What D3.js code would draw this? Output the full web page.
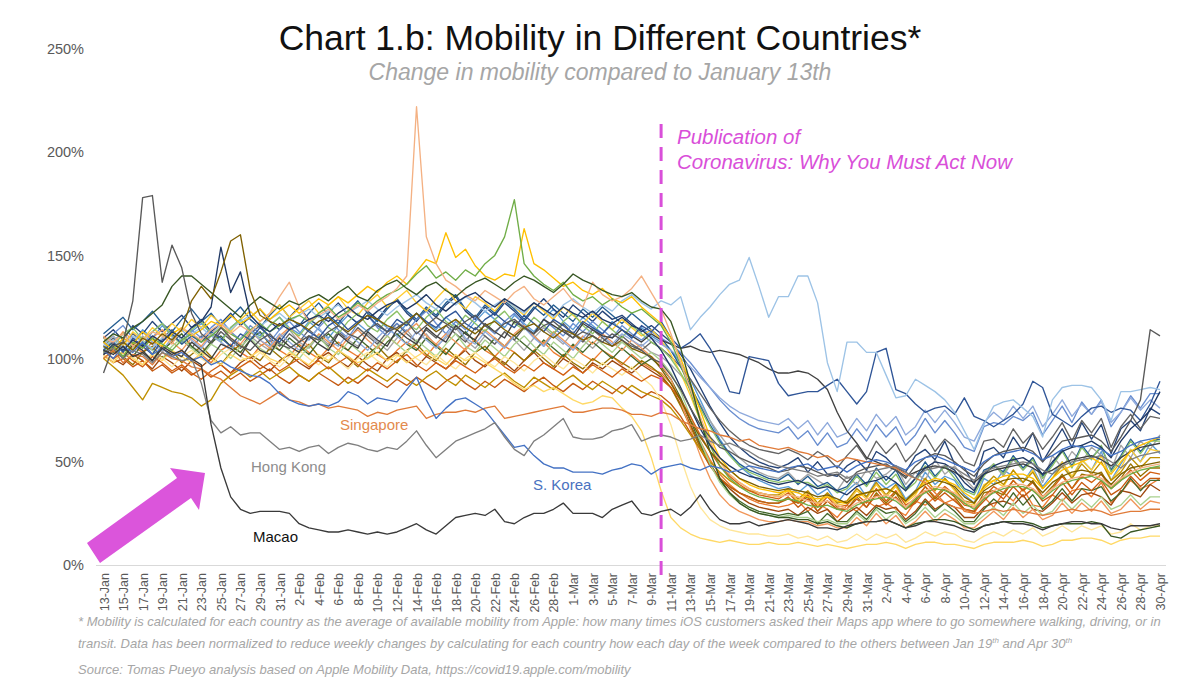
<!DOCTYPE html>
<html><head><meta charset="utf-8">
<script src="https://cdn.jsdelivr.net/npm/d3@7/dist/d3.min.js"></script>
<style>body{margin:0;background:#fff}svg{display:block}text{font-family:"Liberation Sans",Arial,sans-serif}</style>
</head><body><svg id="chart" width="1200" height="696"></svg>
<script>
// ---------- DATA ----------
const startDateUTC = [2020, 0, 13];   // 13-Jan-2020, daily through 30-Apr-2020
const nDays = 109;
const yTickValues = [0, 50, 100, 150, 200, 250];
const xTickEvery = 2;
const eventIndex = 57; // 10-Mar: publication date

const macao = [104,102,106,101,103,99,105,102,104,100, 97,68,47,33,27,25,26,26,26,25, 20,18,17,16,16,17,16,15,16,15, 16,18,20,17,15,19,23,24,25,24, 27,21,20,23,25,25,27,30,25,25, 25,23,27,29,31,25,24,26,27,24, 28,34,27,22,20,20,21,19,20,21, 22,21,20,18,18,17,19,20,21,21, 22,20,18,19,21,21,20,19,17,16, 19,20,21,20,20,19,17,19,20,21, 21,20,20,18,17,19,19,19,20];
const hongKong = [103,105,100,104,102,98,103,101,99,100, 88,70,64,67,63,64,64,60,56,57, 55,57,58,54,57,59,58,56,55,57, 56,60,65,58,52,56,60,62,64,66, 69,62,56,53,60,63,67,71,62,61, 61,62,65,66,68,60,62,63,62,60, 61,63,60,58,59,57,55,52,50,48, 47,46,45,43,44,45,42,44,45,46, 47,48,45,42,46,47,48,47,44,41, 45,47,48,49,50,49,46,44,48,50, 51,52,53,50,47,51,53,54,55];
const sKorea = [104,100,106,103,108,102,105,101,103,99, 101,97,99,96,94,92,91,88,83,80, 78,77,78,77,79,84,82,78,81,80, 79,85,91,80,71,76,80,81,78,75, 69,63,57,58,53,49,47,47,45,45, 45,44,46,47,49,48,44,47,48,49, 47,46,48,47,45,46,48,47,46,45, 47,48,49,46,47,48,45,48,50,51, 50,48,46,50,52,53,51,49,47,45, 50,53,54,55,56,54,51,53,56,58, 57,58,56,53,55,58,60,61,62];
const singapore = [100,104,98,102,101,97,103,100,99,96, 95,92,90,86,82,80,78,81,84,80, 79,77,78,76,77,76,75,72,74,73, 75,76,77,71,73,74,74,75,74,76, 77,71,72,73,74,75,76,77,74,74, 75,76,76,75,73,73,72,74,73,70, 68,66,65,63,62,60,61,58,57,56, 57,55,54,52,53,50,52,51,50,49, 48,47,44,42,40,35,30,28,27,25, 26,27,26,27,26,25,24,25,26,27, 26,27,26,24,25,26,26,27,27];
const countryA = [93,106,108,128,178,179,137,155,144,122, 112,108,115,110,106,104,109,112,107,105, 108,111,109,113,116,112,110,114,117,113, 115,118,112,116,120,117,114,118,121,116, 113,117,119,115,112,116,118,114,110,113, 111,108,112,109,106,104,100,98,92,85, 76,68,62,57,55,52,50,48,47,45, 46,48,47,45,43,44,40,45,47,48, 49,46,42,48,52,54,53,50,46,43, 49,53,55,56,57,55,50,55,60,61, 62,63,60,55,62,70,80,114,111];
const countryB = [106,103,108,104,110,107,112,109,114,128, 135,129,142,157,160,133,121,118,116,119, 117,114,118,120,116,113,117,121,119,116, 114,118,122,117,113,116,119,115,112,116, 118,114,111,115,117,113,110,114,112,109, 111,108,106,109,105,103,101,95,88,80, 70,62,55,50,46,42,40,38,37,36, 37,36,35,33,34,32,30,34,35,36, 37,35,31,36,39,41,40,38,33,30, 36,39,41,42,42,40,35,40,43,45, 46,45,44,39,44,47,48,49,50];
const countryC = [102,107,104,109,106,111,108,113,110,115, 118,125,154,132,142,121,116,113,117,114, 116,119,121,118,122,125,121,119,123,126, 128,124,127,131,126,123,127,130,132,128, 125,129,126,123,127,124,121,125,122,120, 123,119,117,120,116,114,110,104,96,86, 76,66,58,52,48,45,43,42,40,39, 40,41,39,37,38,36,34,38,40,41, 43,40,36,42,47,50,49,46,40,36, 44,48,50,51,52,49,44,50,55,57, 58,60,57,52,60,66,70,75,84];
const countryD = [108,112,110,115,118,122,126,135,140,140, 136,132,128,124,120,126,130,127,124,128, 126,129,131,128,132,135,130,128,133,136, 138,134,131,135,137,133,130,134,137,139, 136,133,137,140,138,135,132,136,141,138, 136,133,131,130,132,128,125,124,118,105, 88,70,55,42,35,30,27,25,24,23, 23,22,22,20,21,19,18,20,21,21, 22,20,18,20,21,22,22,21,19,17, 19,20,21,21,21,20,18,19,20,20, 20,21,20,14,13,16,17,18,19];
const countryE = [110,108,112,106,109,113,111,107,115,112, 109,114,117,112,116,113,118,122,130,137, 125,118,121,124,119,122,126,123,127,130, 134,140,222,159,146,138,135,131,128,133, 130,127,132,135,129,126,130,134,128,125, 137,131,128,130,134,140,132,124,112,98, 85,72,60,50,44,40,37,35,34,33, 34,33,31,30,31,29,27,30,32,33, 34,32,28,33,36,38,37,35,31,28, 33,36,38,39,39,37,33,37,40,42, 43,44,42,38,42,45,47,48,49];
const countryF = [103,106,101,108,105,110,107,104,109,112, 108,111,115,112,109,114,117,113,116,119, 121,118,122,125,120,123,127,124,128,131, 133,136,141,145,139,142,138,143,140,146, 150,159,177,146,140,136,133,137,131,128, 130,126,129,125,122,124,120,116,108,97, 84,70,58,48,42,38,35,33,32,31, 32,31,29,28,29,27,26,29,31,32, 33,31,27,32,35,37,36,34,30,27, 32,35,37,38,38,36,32,36,39,41, 42,43,41,37,41,44,46,47,48];
const countryG = [108,104,110,107,113,109,106,112,115,111, 114,118,116,121,117,120,124,119,123,126, 122,125,129,126,130,127,131,135,132,137, 140,136,142,148,146,161,149,153,145,140, 138,141,140,163,146,143,139,135,137,133, 131,134,129,127,130,125,121,117,110,100, 88,75,62,52,46,42,39,37,36,35, 36,35,33,32,33,31,30,33,35,36, 37,35,31,36,40,42,41,39,35,32, 37,41,43,44,44,42,37,42,46,48, 50,52,49,44,50,55,58,60,62];
const countryH = [106,109,104,111,108,105,110,113,109,112, 115,111,117,114,118,121,116,119,122,118, 121,124,120,123,126,122,125,128,124,121, 125,128,131,127,124,129,126,130,127,123, 126,129,125,122,127,124,120,126,129,125, 122,126,123,128,131,127,124,128,126,130, 114,120,125,131,136,138,149,135,120,130, 130,140,140,127,98,84,108,108,103,103, 92,81,82,90,87,84,80,74,65,56, 68,77,79,80,76,72,62,80,86,87, 87,86,80,70,84,84,85,86,85];
const countryI = [104,108,103,110,106,102,109,112,107,111, 108,113,110,106,112,109,115,111,108,114, 117,113,110,116,119,114,118,121,116,113, 119,116,122,118,115,120,123,117,114,119, 122,118,115,121,117,113,119,116,112,118, 115,112,117,114,110,116,113,118,110,105, 108,112,105,96,84,83,101,100,99,88, 82,83,84,84,87,90,84,78,84,103, 105,85,83,78,74,76,77,73,81,72, 70,67,70,73,78,89,86,73,70,67, 72,76,77,74,76,75,70,78,89];
const countryJ = [102,105,100,107,104,99,106,103,101,108, 104,100,107,105,101,109,104,102,110,106, 103,111,107,104,112,108,105,113,109,106, 114,110,107,115,111,108,116,112,109,117, 113,110,118,115,112,119,116,113,110,117, 114,111,110,114,111,108,112,109,107,105, 106,104,103,104,103,102,100,98,95,93, 93,94,93,90,85,74,65,59,52,50, 48,46,43,45,47,48,47,45,42,40, 44,46,47,48,49,47,44,46,49,51, 52,53,51,48,52,55,57,58,59];
const countryK = [101,98,103,100,97,102,99,104,101,98, 103,100,97,102,99,101,104,100,98,103, 100,97,102,99,104,101,98,100,103,99, 102,98,101,104,100,97,102,99,101,98, 95,92,88,85,87,84,86,83,80,78, 79,82,81,76,72,65,52,36,23,18, 15,13,12,11,12,11,10,10,11,10, 10,11,10,9,10,9,8,9,10,10, 11,10,8,10,11,11,10,10,9,8, 10,11,11,11,12,11,9,10,12,12, 13,13,12,10,12,13,13,14,14];
const countryL = [105,109,112,107,114,110,116,111,108,113, 117,112,109,115,119,114,111,116,120,115, 112,118,114,110,116,121,117,113,119,115, 111,117,122,118,114,120,116,112,118,123, 119,115,121,117,113,119,124,118,114,120, 116,112,118,114,110,115,111,108,104,98, 90,80,70,61,54,48,44,41,39,37, 38,35,39,34,37,30,36,40,33,41, 37,40,32,36,45,39,43,41,34,30, 42,39,46,43,40,47,38,44,50,42, 51,46,55,41,49,56,50,59,54];
const countryM = [110,106,109,104,111,107,103,109,112,106, 103,108,113,109,105,111,107,104,110,114, 108,105,111,107,113,109,106,112,108,104, 110,114,108,112,106,110,115,109,105,111, 107,113,109,104,110,115,111,107,113,109, 105,110,106,108,104,107,103,101,97,92, 86,78,70,63,57,52,48,45,43,42, 45,40,44,41,38,36,43,39,46,42, 44,48,39,45,41,51,44,48,42,37, 45,49,43,51,46,52,40,53,47,55, 50,57,53,46,58,52,60,56,63];
const countryN = [108,104,101,106,103,108,105,101,104,99, 102,98,104,107,103,100,106,109,104,101, 107,103,100,105,108,104,101,106,102,99, 104,108,105,101,107,103,100,105,109,104, 101,106,103,99,104,108,103,100,106,102, 99,104,101,97,102,98,95,93,88,80, 70,60,51,44,39,35,32,30,29,28, 29,31,26,30,27,23,29,26,31,28, 30,27,24,31,29,33,30,32,26,25, 33,28,35,31,37,29,28,34,31,36, 37,33,40,30,35,41,37,39,42];
const countryO = [110,114,109,116,112,118,113,117,121,115, 119,113,117,122,116,120,124,118,114,120, 125,119,116,122,127,121,117,123,119,125, 128,122,118,124,120,126,130,123,119,125, 121,127,123,118,124,129,124,120,126,122, 118,123,119,121,117,113,116,112,108,102, 95,86,77,69,62,57,53,50,48,47, 49,52,45,50,44,43,48,51,46,55, 52,47,45,53,56,51,60,49,47,39, 55,57,52,62,55,64,50,58,66,57, 69,61,68,54,66,70,65,76,73];
const countryP = [104,100,97,102,99,95,101,98,94,99, 96,100,97,93,98,101,97,94,99,102, 98,95,100,103,99,96,101,97,94,100, 103,99,96,101,98,95,100,104,99,96, 101,98,94,99,103,98,95,100,97,93, 98,95,99,96,93,97,94,91,86,78, 68,58,49,42,37,33,30,28,27,26, 27,24,28,25,27,21,25,28,24,29, 27,28,22,26,32,27,30,28,23,23, 28,30,31,29,34,27,26,30,35,30, 34,35,33,29,36,35,33,39,36];
const countryQ = [106,110,107,112,108,104,110,114,109,105, 111,107,113,109,105,112,116,110,106,112, 108,114,110,106,113,109,115,111,107,113, 117,112,108,114,110,116,112,108,115,111, 107,113,109,115,111,106,112,117,112,108, 114,110,106,111,107,104,108,105,101,96, 90,83,76,70,65,61,58,56,55,54, 56,54,51,55,52,47,53,58,51,60, 54,59,50,55,63,55,61,57,50,48, 60,61,57,66,59,64,56,62,69,60, 70,64,71,57,67,73,66,72,71];
const countryR = [100,104,101,97,103,106,100,104,98,102, 106,101,97,103,107,102,99,105,101,97, 103,107,101,98,104,100,96,102,106,101, 98,104,107,102,99,105,101,97,103,106, 101,97,103,99,104,100,96,102,98,95, 100,97,101,98,95,99,96,92,86,77, 67,57,48,42,38,35,33,31,30,30, 32,30,33,26,31,27,27,33,28,35, 30,35,27,31,38,32,37,33,27,26, 35,36,34,41,36,41,33,38,44,37, 44,43,45,37,42,49,43,47,47];
const countryS = [112,116,120,114,118,123,117,113,119,124, 118,122,116,120,125,119,115,121,126,120, 116,122,127,121,117,123,128,122,118,124, 129,123,119,125,121,127,131,124,120,126, 122,128,124,119,125,121,126,122,118,124, 120,125,121,117,122,118,114,110,104,96, 87,77,68,60,54,49,46,44,42,41, 44,39,43,38,40,36,38,44,39,47, 41,46,37,42,50,43,48,44,37,35, 46,48,45,53,47,52,43,49,56,48, 58,52,57,46,53,61,55,60,61];
const countryT = [104,108,105,101,107,110,104,108,112,106, 102,108,111,106,103,109,113,107,104,110, 106,102,108,112,107,104,110,106,102,108, 112,107,104,110,106,102,108,113,108,104, 110,106,111,107,103,109,105,101,107,103, 108,104,100,105,101,97,100,96,90,81, 70,59,49,41,35,31,28,26,25,24, 25,24,26,20,25,21,21,26,22,28, 25,26,21,25,31,26,30,26,21,21, 27,32,28,35,29,34,27,31,37,31, 37,36,38,31,35,42,36,41,41];
const countryU = [108,112,116,110,106,113,117,111,108,114, 110,115,119,113,109,116,112,108,114,118, 113,109,115,120,114,110,117,121,115,111, 117,113,119,123,117,112,118,114,120,116, 112,118,122,116,112,119,115,111,117,113, 118,114,110,116,112,109,113,110,107,103, 98,92,86,80,75,71,68,66,65,64, 67,61,65,58,64,57,59,66,60,68, 62,67,58,63,71,64,70,64,57,55, 67,69,68,72,70,74,63,70,77,69, 79,73,80,67,74,82,76,83,83];
const countryV = [111,107,113,109,105,110,114,108,104,110, 106,112,116,110,107,113,109,105,111,115, 110,106,112,108,104,110,114,109,105,111, 107,113,117,111,107,112,108,104,110,114, 110,106,112,116,111,107,113,109,105,111, 107,112,108,104,109,105,101,97,90,79, 66,53,42,34,29,26,24,22,21,21, 22,21,21,19,20,18,18,23,19,25, 20,24,18,21,26,21,25,22,18,18, 22,26,22,28,23,27,22,24,30,25, 30,26,31,25,27,32,27,31,30];
const countryW = [108,111,106,113,109,115,111,117,113,119, 115,121,117,113,119,123,118,122,126,120, 124,128,122,126,130,124,121,127,131,125, 129,133,127,123,129,134,128,124,130,127, 123,129,125,121,127,123,119,125,121,117, 122,118,114,119,115,111,114,109,102,93, 82,70,59,50,44,40,37,35,34,33, 36,31,35,29,34,29,30,36,32,39, 33,38,30,34,42,36,42,36,30,29, 39,41,38,46,40,46,37,42,50,43, 51,46,53,41,47,56,50,56,55];
const countryX = [110,106,112,115,109,113,117,111,107,114, 118,112,108,115,119,113,110,116,120,114, 111,117,121,115,112,118,122,116,113,119, 123,117,114,120,124,118,115,121,117,113, 119,123,117,114,120,116,112,118,122,116, 112,118,114,110,116,112,108,105,100,93, 85,76,67,59,53,48,45,43,41,40, 41,40,40,37,39,35,37,43,38,45, 39,44,36,40,48,42,48,42,36,34, 43,49,44,52,46,51,42,48,55,47, 57,51,58,45,52,60,54,60,60];
const countryY = [102,98,100,96,99,94,97,93,96,92, 95,91,94,90,93,89,92,95,91,88, 92,89,93,90,87,91,88,92,89,86, 90,87,91,88,85,89,92,88,85,89, 86,90,87,84,88,91,87,84,88,85, 89,86,83,87,84,81,84,82,78,72, 64,56,48,42,38,35,33,31,30,30, 33,28,32,26,31,27,27,32,28,34, 29,33,27,30,36,31,35,31,27,26, 31,36,32,38,33,37,31,34,40,34, 40,36,41,34,37,43,38,42,42];
const countryZ = [100,96,92,86,80,88,86,84,83,81, 77,80,88,92,95,91,94,90,93,96, 92,89,93,96,92,88,91,95,92,89, 93,90,87,91,94,90,87,92,89,86, 90,93,89,86,91,88,85,89,92,88, 85,89,86,83,87,84,82,80,76,70, 63,56,50,45,41,38,36,35,34,34, 37,32,36,30,35,30,31,37,33,40, 34,39,31,35,42,36,42,37,31,30, 38,43,39,46,40,45,37,42,48,42, 49,44,50,41,45,52,47,52,52];
const countryAA = [107,111,105,109,113,108,104,110,114,109, 105,111,108,104,110,114,109,106,112,108, 104,110,115,109,106,112,108,104,110,115, 111,107,113,109,105,111,116,110,107,113, 109,105,111,115,110,106,112,108,104,110, 115,111,107,112,109,106,110,107,104,100, 96,91,86,81,77,74,72,70,69,68, 71,66,70,63,69,62,64,71,65,73, 67,72,63,67,75,69,75,69,62,60, 69,74,70,77,71,77,67,73,80,72, 78,73,79,69,74,81,75,80,76];
const countryAB = [103,107,101,105,109,104,100,106,110,105, 101,107,104,100,106,110,105,102,108,104, 100,106,111,105,102,108,104,100,106,111, 107,103,109,105,101,107,112,106,103,109, 105,101,107,111,106,102,108,104,100,106, 111,107,103,108,104,100,103,99,93,84, 72,60,49,40,34,30,27,25,24,23, 24,23,23,21,22,20,20,25,21,27, 22,26,20,23,28,23,27,24,20,20, 24,28,24,30,25,29,24,26,32,27, 32,28,33,27,29,34,29,33,33];
const countryAC = [102,99,104,101,97,103,100,96,101,104, 100,97,102,105,101,98,103,99,96,101, 104,100,97,102,99,95,100,103,99,96, 101,104,100,97,102,98,95,100,103,99, 96,101,98,94,99,102,98,95,100,97, 93,98,95,92,96,91,87,80,68,52, 38,28,22,19,17,16,15,15,14,14, 15,13,14,12,14,11,12,15,12,15, 13,15,11,13,16,14,16,15,12,11, 14,16,14,17,15,18,14,16,19,16, 19,17,19,15,16,20,17,19,19];
const countryAD = [104,100,103,99,96,101,98,94,97,93, 90,94,97,93,96,99,95,98,94,97, 100,96,99,95,98,101,97,94,98,95, 99,102,97,94,98,95,99,96,93,97, 100,96,93,97,94,98,95,92,96,93, 97,94,91,95,92,89,92,90,86,80, 72,63,55,48,43,39,36,34,33,32, 35,30,34,28,33,28,29,34,30,37, 31,36,29,32,38,33,38,34,29,28, 33,38,35,41,36,40,33,37,43,37, 43,40,44,37,41,46,41,45,44];

// draw order: background lines first, labelled places last
const seriesNames = ["countryL","countryM","countryN","countryO","countryP","countryQ","countryR","countryS","countryT","countryU","countryV","countryW","countryX","countryY","countryZ","countryAA","countryAB","countryAC","countryAD","countryK","countryJ","countryI","countryH","countryG","countryF","countryE","countryD","countryC","countryB","countryA","singapore","sKorea","hongKong","macao"];
const seriesValues = {macao, hongKong, sKorea, singapore, countryA, countryB, countryC, countryD, countryE, countryF, countryG, countryH, countryI, countryJ, countryK, countryL, countryM, countryN, countryO, countryP, countryQ, countryR, countryS, countryT, countryU, countryV, countryW, countryX, countryY, countryZ, countryAA, countryAB, countryAC, countryAD};

// ---------- STYLE ----------
const seriesColors = {
  macao:"#3a3a3a", hongKong:"#7f7f7f", sKorea:"#4472c4", singapore:"#e07b39",
  countryA:"#595959", countryB:"#7f6000", countryC:"#203864", countryD:"#375623",
  countryE:"#f4b183", countryF:"#70ad47", countryG:"#ffc000", countryH:"#9dc3e6",
  countryI:"#2f5597", countryJ:"#404040", countryK:"#ffd966",
  countryL:"#5b9bd5", countryM:"#a5a5a5", countryN:"#ed7d31", countryO:"#264478",
  countryP:"#9e480e", countryQ:"#636363", countryR:"#997300", countryS:"#255e91",
  countryT:"#43682b", countryU:"#698ed0", countryV:"#f1975a", countryW:"#ffcd33",
  countryX:"#8cc168", countryY:"#c55a11", countryZ:"#bf9000", countryAA:"#8faadc",
  countryAB:"#a9d18e", countryAC:"#ffe699", countryAD:"#d26012"
};
const magenta = "#d94fd9";

// ---------- CHART ----------
const svg = d3.select("#chart");
const bad = seriesNames.filter(n => seriesValues[n].length !== nDays);
if (bad.length) svg.append("text").attr("x",300).attr("y",300).attr("fill","red").attr("font-size",20).text("BAD LENGTH: " + bad.map(n=>n+":"+seriesValues[n].length).join(", "));

const start = new Date(Date.UTC(startDateUTC[0], startDateUTC[1], startDateUTC[2]));
const dates = d3.range(nDays).map(i => d3.utcDay.offset(start, i));
const fmt = d3.utcFormat("%-d-%b");

const x = d3.scaleLinear().domain([0, nDays - 1]).range([103.5, 1160]);
const y = d3.scaleLinear().domain([0, 250]).range([565, 49]);

// title
svg.append("text").attr("x", 600).attr("y", 50).attr("text-anchor","middle")
  .attr("font-size", 35.5).attr("fill","#111").text("Chart 1.b: Mobility in Different Countries*");
svg.append("text").attr("x", 600).attr("y", 80).attr("text-anchor","middle")
  .attr("font-size", 23).attr("font-style","italic").attr("fill","#a6a6a6")
  .text("Change in mobility compared to January 13th");

// y axis labels (no line)
const yAxis = d3.axisLeft(y).tickValues(yTickValues).tickFormat(d => d + "%").tickSize(0).tickPadding(0);
const gy = svg.append("g").attr("transform","translate(84,0)").call(yAxis);
gy.select(".domain").remove();
gy.selectAll("text").attr("font-size", 14.5).attr("fill","#595959").attr("font-family",'"Liberation Sans",Arial,sans-serif');

// x axis baseline
svg.append("line").attr("x1", 96).attr("x2", 1166).attr("y1", y(0) + 0.5).attr("y2", y(0) + 0.5)
  .attr("stroke","#d9d9d9").attr("stroke-width",1.2);

// x tick labels (rotated)
const xAxis = d3.axisBottom(x).tickValues(d3.range(0, nDays, xTickEvery)).tickFormat(i => fmt(dates[i])).tickSize(0);
const gx = svg.append("g").attr("transform", `translate(0,${y(0)})`).call(xAxis);
gx.select(".domain").remove();
gx.selectAll("text")
  .attr("font-size", 12.5).attr("fill","#595959").attr("font-family",'"Liberation Sans",Arial,sans-serif')
  .attr("text-anchor","end").attr("transform","translate(0,8) rotate(-90)")
  .attr("x", 0).attr("y", 0).attr("dy","0.36em");

// lines
const line = d3.line().x((d,i) => x(i)).y(d => y(d));
svg.append("g").selectAll("path").data(seriesNames).join("path")
  .attr("d", n => line(seriesValues[n]))
  .attr("fill","none").attr("stroke", n => seriesColors[n])
  .attr("stroke-width", 1.35).attr("stroke-linejoin","round");

// event dashed line
svg.append("line").attr("x1", x(eventIndex)).attr("x2", x(eventIndex)).attr("y1", 124).attr("y2", 579)
  .attr("stroke", magenta).attr("stroke-width", 3).attr("stroke-dasharray","14,9");
const ann = svg.append("text").attr("font-size", 20.5).attr("font-style","italic").attr("fill", magenta);
ann.append("tspan").attr("x", 677).attr("y", 144).text("Publication of");
ann.append("tspan").attr("x", 677).attr("y", 169).text("Coronavirus: Why You Must Act Now");

// series labels
const lab = [
  {t:"Singapore", x:340, y:430, c:"#e38a4d"},
  {t:"Hong Kong", x:251, y:472, c:"#8c8c8c"},
  {t:"S. Korea", x:533, y:490, c:"#4a72c0"},
  {t:"Macao", x:253, y:542, c:"#111"}
];
svg.append("g").selectAll("text").data(lab).join("text")
  .attr("x", d => d.x).attr("y", d => d.y).attr("fill", d => d.c).attr("font-size", 15).text(d => d.t);

// big arrow
svg.append("polygon")
  .attr("points", [[87,543],[177,478],[170,468],[205,473],[199,510],[191,498],[100,563]].map(p=>p.join(",")).join(" "))
  .attr("fill", "#db55db");

// footnotes
const fn = svg.append("g").attr("font-size", 13).attr("font-style","italic").attr("fill","#a6a6a6");
fn.append("text").attr("x", 78).attr("y", 626)
  .text("* Mobility is calculated for each country as the average of available mobility from Apple: how many times iOS customers asked their Maps app where to go somewhere walking, driving, or in");
const l2 = fn.append("text").attr("x", 78).attr("y", 648);
l2.append("tspan").text("transit. Data has been normalized to reduce weekly changes by calculating for each country how each day of the week compared to the others between Jan 19");
l2.append("tspan").attr("font-size", 8).attr("dy", -5).text("th");
l2.append("tspan").attr("dy", 5).text(" and Apr 30");
l2.append("tspan").attr("font-size", 8).attr("dy", -5).text("th");
fn.append("text").attr("x", 78).attr("y", 674)
  .text("Source: Tomas Pueyo analysis based on Apple Mobility Data, https://covid19.apple.com/mobility");
</script>
</body></html>
